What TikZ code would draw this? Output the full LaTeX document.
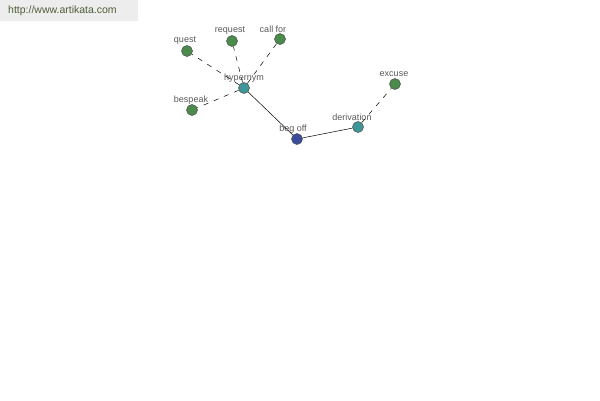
\documentclass[tikz,border=0pt]{standalone}
\usepackage{fontspec}
\setmainfont{Liberation Sans}
\definecolor{leafc}{HTML}{4A8A4A}
\definecolor{midc}{HTML}{3E9696}
\definecolor{rootc}{HTML}{3C4C9C}
\definecolor{sitec}{HTML}{4E5E3A}
\begin{document}
\begin{tikzpicture}[x=1pt,y=-1pt,
  dot/.style={circle,draw=black!70,line width=0.5pt,minimum size=11pt,inner sep=0pt},
  leaf/.style={dot,fill=leafc},
  mid/.style={dot,fill=midc},
  root/.style={dot,fill=rootc},
  lbl/.style={font=\fontsize{9}{10}\selectfont,text=black!65,inner sep=0pt},
  rel/.style={dashed,dash pattern=on 5pt off 6pt,line width=0.5pt},
  link/.style={line width=0.5pt}]
\useasboundingbox (0,0) rectangle (600,400);
\fill[black!7] (0,0) rectangle (138,21);
\node[font=\fontsize{10.5}{12}\selectfont,text=sitec,anchor=west,inner sep=0pt] (site) at (8,11) {http://www.artikata.com};
\node[leaf] (quest) at (187,51) {};
\node[leaf] (request) at (232,41) {};
\node[leaf] (callfor) at (280,39) {};
\node[mid] (hyp) at (244,88) {};
\node[leaf] (bespeak) at (192,110) {};
\node[root] (beg) at (297,139) {};
\node[mid] (der) at (358,127) {};
\node[leaf] (excuse) at (395,84) {};
\node[lbl] (lquest) at (185,41) {quest};
\node[lbl] (lrequest) at (230,31) {request};
\node[lbl] (lcallfor) at (273,29) {call for};
\node[lbl] (lhyp) at (244,78) {hypernym};
\node[lbl] (lbespeak) at (191,100) {bespeak};
\node[lbl] (lbeg) at (293,129) {beg off};
\node[lbl] (lder) at (352,117) {derivation};
\node[lbl] (lexcuse) at (394,74) {excuse};
\draw[rel] (hyp) -- (quest);
\draw[rel] (hyp) -- (request);
\draw[rel] (hyp) -- (callfor);
\draw[rel] (hyp) -- (bespeak);
\draw[rel] (der) -- (excuse);
\draw[link] (hyp) -- (beg);
\draw[link] (beg) -- (der);
\end{tikzpicture}
\end{document}
